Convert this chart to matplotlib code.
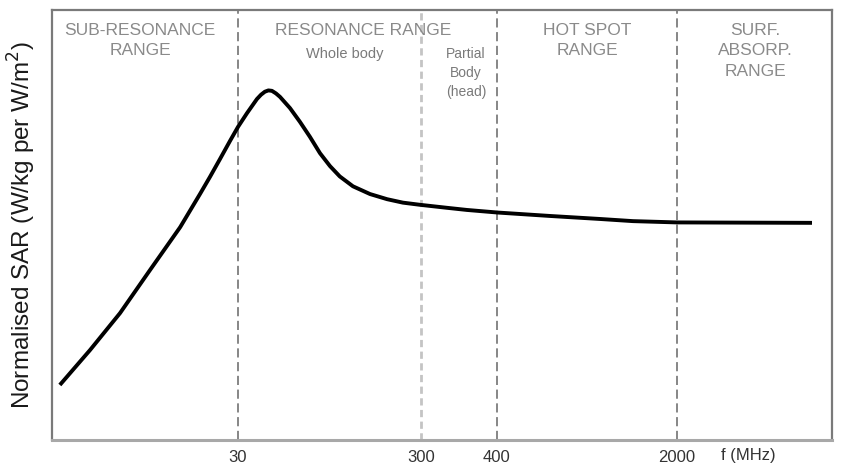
import numpy as np
import matplotlib
matplotlib.use("Agg")
import matplotlib.pyplot as plt
from matplotlib.scale import FuncScale

# ---- data (frequency in MHz, SAR in arbitrary normalised units) ----
freq_mhz = [3.19, 4.66, 6.80, 9.91, 14.5, 18.6, 21.1, 23.9, 27.1, 30.0, 33.6, 38.1,
            40.1, 42.1, 44.0, 46.0, 48.4, 50.9, 57.7, 65.4, 74.2, 84.2, 95.5, 108,
            127.5, 158, 196, 239, 296, 331, 357, 402, 643, 1005, 1350, 2000, 6690]
sar_norm = [12.8, 20.9, 29.5, 39.5, 49.5, 57.2, 61.2, 65.3, 69.5, 72.8, 76.0, 79.3,
            80.3, 81.0, 81.3, 81.2, 80.6, 79.8, 77.2, 74.0, 70.5, 66.7, 63.7, 61.3,
            59.0, 57.2, 56.0, 55.2, 54.7, 54.0, 53.5, 52.9, 52.1, 51.4, 50.9, 50.6, 50.5]

tick_freqs = [30, 300, 400, 2000]
tick_labels = ["30", "300", "400", "2000"]
boundary_freqs = [30, 300, 400, 2000]
boundary_light = [False, True, False, False]

range_labels = ["SUB-RESONANCE\nRANGE", "RESONANCE RANGE", "HOT SPOT\nRANGE",
                "SURF.\nABSORP.\nRANGE"]
range_label_freqs = [8.74, 145, 895, 4018]
sub_labels = ["Whole body", "Partial\nBody\n(head)"]
sub_label_freqs = [115, 356]

# ---- schematic (piecewise-logarithmic) frequency axis ----
anchor_log = np.log10([1, 30, 300, 400, 2000, 1e5])
anchor_pos = np.array([-32.3, 238, 421, 497, 677, 1114.5])

def fwd(f):
    f = np.asarray(f, dtype=float)
    lf = np.log10(np.clip(f, 1e-9, None))
    return np.interp(lf, anchor_log, anchor_pos)

def inv(p):
    p = np.asarray(p, dtype=float)
    return 10 ** np.interp(p, anchor_pos, anchor_log)

plt.rcParams["font.family"] = ["Liberation Sans", "DejaVu Sans"]

fig = plt.figure(figsize=(8.44, 4.66), dpi=100)
ax = fig.add_axes([52 / 844, 26 / 466, 780 / 844, 430 / 466])
ax.set_xscale(FuncScale(ax.xaxis, (fwd, inv)))
ax.set_xlim(2.89, 8000)
ax.set_ylim(0, 100)

# range boundaries
for f, light in zip(boundary_freqs, boundary_light):
    if light:
        ax.axvline(f, color="#c4c4c4", lw=2.0, dashes=(2.6, 1.6), zorder=1)
    else:
        ax.axvline(f, color="#666666", lw=1.1, dashes=(6, 3), zorder=1)

# SAR curve
ax.plot(freq_mhz, sar_norm, color="black", lw=2.8, solid_capstyle="butt",
        solid_joinstyle="round", zorder=3)

# range texts
for lab, f in zip(range_labels, range_label_freqs):
    ax.text(f, 97.0, lab, ha="center", va="top", fontsize=12.5, color="#8a8a8a",
            linespacing=1.45)
ax.text(sub_label_freqs[0], 91.4, sub_labels[0], ha="center", va="top",
        fontsize=10.5, color="#7a7a7a")
ax.text(sub_label_freqs[1], 91.4, sub_labels[1], ha="center", va="top",
        fontsize=10, color="#7a7a7a", linespacing=1.45)

# axes styling
for side in ["left", "top", "right"]:
    ax.spines[side].set_color("#7a7a7a")
    ax.spines[side].set_linewidth(1.6)
ax.spines["bottom"].set_color("#a8a8a8")
ax.spines["bottom"].set_linewidth(2.2)

ax.set_yticks([])
ax.set_xticks(tick_freqs)
ax.set_xticklabels(tick_labels, fontsize=12, color="#333333")
ax.xaxis.set_minor_locator(matplotlib.ticker.NullLocator())
ax.tick_params(axis="x", length=0, pad=7)

ax.text(3773, -3.5, "f (MHz)", ha="center", va="center", fontsize=12, color="#333333")

ax.set_ylabel("Normalised SAR (W/kg per W/m$^2$)", fontsize=17.5, color="#1a1a1a",
              labelpad=10)

fig.savefig("out.png", dpi=100)
